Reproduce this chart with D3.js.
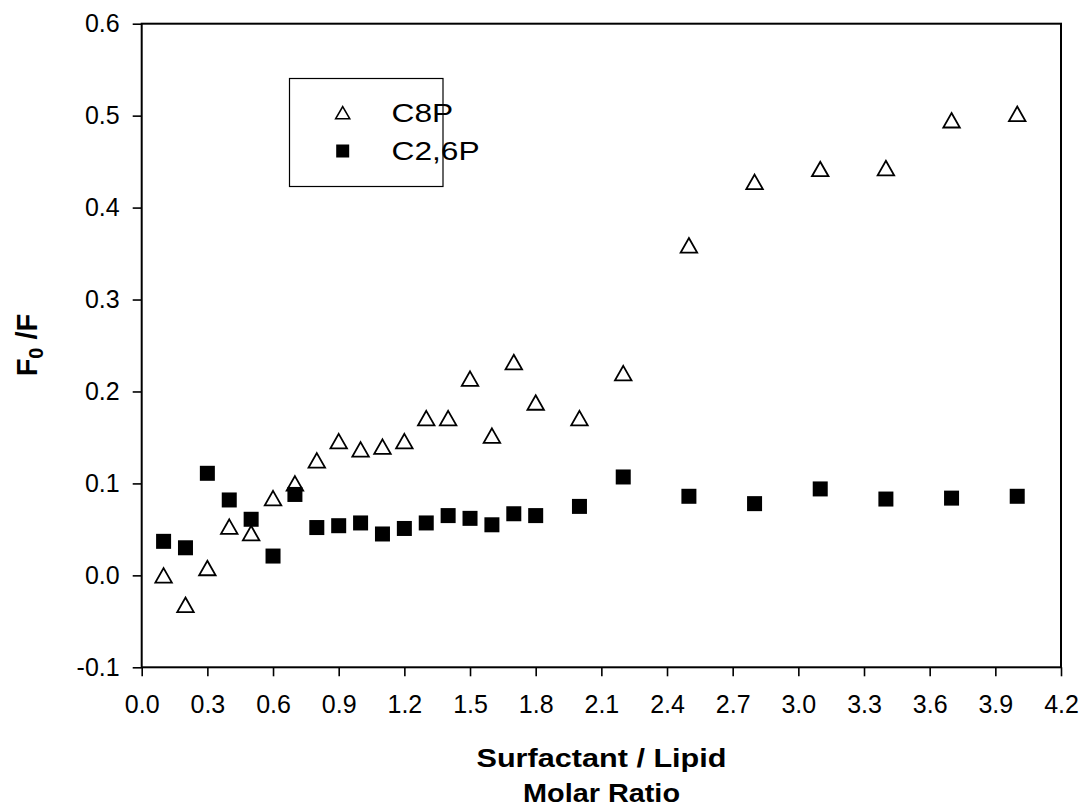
<!DOCTYPE html>
<html>
<head>
<meta charset="utf-8">
<script src="https://cdn.jsdelivr.net/npm/d3@7"></script>
<style>
  html, body { margin: 0; padding: 0; background: #fff; }
  svg { display: block; font-family: Arial, "Liberation Sans", Helvetica, sans-serif; }
</style>
</head>
<body>
<svg id="chart" width="1082" height="808"></svg>
<script>
// Surfactant / lipid molar ratio (shared by both series)
const ratio = [0.1, 0.2, 0.3, 0.4, 0.5, 0.6, 0.7, 0.8, 0.9, 1.0, 1.1, 1.2, 1.3,
               1.4, 1.5, 1.6, 1.7, 1.8, 2.0, 2.2, 2.5, 2.8, 3.1, 3.4, 3.7, 4.0];

// F0/F for C8P
const c8p = [0.000, -0.032, 0.008, 0.053, 0.046, 0.084, 0.100, 0.125, 0.146, 0.137,
             0.140, 0.146, 0.171, 0.171, 0.214, 0.152, 0.232, 0.188, 0.171, 0.220,
             0.359, 0.428, 0.442, 0.443, 0.495, 0.502];

// F0/F for C2,6P
const c26p = [0.037, 0.030, 0.111, 0.082, 0.061, 0.021, 0.088, 0.052, 0.054, 0.057,
              0.045, 0.051, 0.057, 0.065, 0.062, 0.055, 0.067, 0.065, 0.075, 0.107,
              0.086, 0.078, 0.094, 0.083, 0.084, 0.086];

// Axis ticks
const xTicks = [0.0, 0.3, 0.6, 0.9, 1.2, 1.5, 1.8, 2.1, 2.4, 2.7, 3.0, 3.3, 3.6, 3.9, 4.2];
const yTicks = [-0.1, 0.0, 0.1, 0.2, 0.3, 0.4, 0.5, 0.6];

const seriesNames = ["C8P", "C2,6P"];

const svg = d3.select("#chart");
const plotL = 141.7, plotR = 1061, plotT = 23.7, plotB = 667.3;

const x = d3.scaleLinear().domain([0, 4.2]).range([plotL, plotR]);
const y = d3.scaleLinear().domain([-0.1, 0.6]).range([plotB, plotT]);

// one decimal, plain hyphen for negatives
const fmt = d => d.toFixed(1);

// Frame
svg.append("rect")
  .attr("x", plotL).attr("y", plotT)
  .attr("width", plotR - plotL).attr("height", plotB - plotT)
  .attr("fill", "none").attr("stroke", "#000").attr("stroke-width", 2);

// Axes
const xAxis = svg.append("g")
  .attr("transform", `translate(0,${plotB})`)
  .call(d3.axisBottom(x).tickValues(xTicks).tickFormat(fmt)
        .tickSize(9).tickPadding(19));
const yAxis = svg.append("g")
  .attr("transform", `translate(${plotL},0)`)
  .call(d3.axisLeft(y).tickValues(yTicks).tickFormat(fmt)
        .tickSize(9).tickPadding(13));

[xAxis, yAxis].forEach(g => {
  g.attr("font-size", null).attr("font-family", null);
  g.select(".domain").remove();
  g.selectAll(".tick line").attr("stroke", "#000").attr("stroke-width", 1.6);
  g.selectAll(".tick text")
    .attr("fill", "#000")
    .style("font-size", "25px")
    .style("font-family", "Arial, 'Liberation Sans', sans-serif");
});

// Markers
const tri = (cx, cy, w, h) =>
  `M${cx},${cy - h / 2}L${cx + w / 2},${cy + h / 2}L${cx - w / 2},${cy + h / 2}Z`;

const pts = ratio.map((r, i) => ({ r, a: c8p[i], b: c26p[i] }));

svg.append("g").selectAll("path")
  .data(pts).join("path")
  .attr("d", d => tri(x(d.r), y(d.a), 16.5, 14.5))
  .attr("fill", "#fff").attr("stroke", "#000").attr("stroke-width", 1.8)
  .attr("stroke-linejoin", "miter");

const sq = 15;
svg.append("g").selectAll("rect")
  .data(pts).join("rect")
  .attr("x", d => x(d.r) - sq / 2)
  .attr("y", d => y(d.b) - sq / 2)
  .attr("width", sq).attr("height", sq)
  .attr("fill", "#000");

// Legend
const lg = svg.append("g");
lg.append("rect")
  .attr("x", 289.5).attr("y", 78.5).attr("width", 153.5).attr("height", 108)
  .attr("fill", "#fff").attr("stroke", "#000").attr("stroke-width", 1.2);
lg.append("path")
  .attr("d", tri(342.7, 112.7, 14, 12))
  .attr("fill", "#fff").attr("stroke", "#000").attr("stroke-width", 1.6);
lg.append("rect")
  .attr("x", 342.7 - 6.5).attr("y", 151 - 6.5).attr("width", 13).attr("height", 13)
  .attr("fill", "#000");
lg.selectAll("g.lab")
  .data(seriesNames).join("g")
  .attr("class", "lab")
  .attr("transform", (d, i) => `translate(391.5,${121.5 + i * 38.5}) scale(1.22,1)`)
  .append("text")
  .style("font-size", "26px")
  .text(d => d);

// X axis title (two lines)
[["Surfactant / Lipid", 767, 250], ["Molar Ratio", 801.5, 157]].forEach(([t, yy, len]) => {
  svg.append("text")
    .attr("x", 601.5).attr("y", yy)
    .attr("text-anchor", "middle")
    .attr("textLength", len).attr("lengthAdjust", "spacingAndGlyphs")
    .style("font-size", "25.5px").style("font-weight", "bold")
    .text(t);
});

// Y axis title
const yt = svg.append("text")
  .attr("transform", "translate(37,345) rotate(-90)")
  .attr("text-anchor", "middle")
  .style("font-size", "29px").style("font-weight", "bold");
yt.append("tspan").text("F");
yt.append("tspan").attr("dy", 6).style("font-size", "20px").text("0");
yt.append("tspan").attr("dy", -6).text(" /F");
</script>
</body>
</html>
